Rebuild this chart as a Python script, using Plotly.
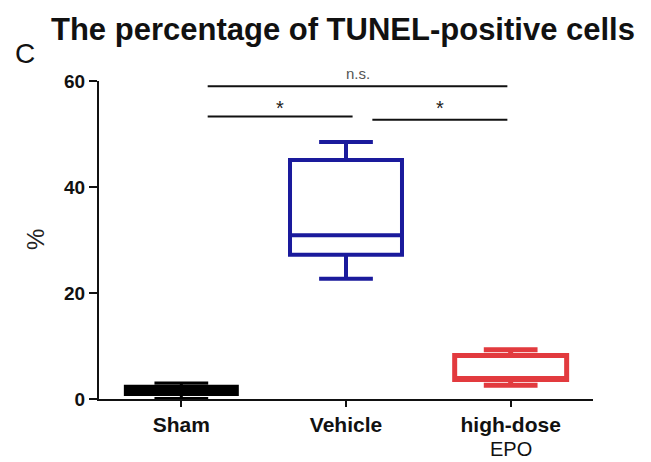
import plotly.graph_objects as go

# Groups and their box statistics (% TUNEL-positive cells)
groups = ["Sham", "Vehicle", "high-dose EPO"]
lower_whisker = [0.1, 22.7, 2.6]
q1 = [0.85, 27.2, 3.7]
median = [1.6, 30.9, 3.7]
q3 = [2.4, 45.1, 8.2]
upper_whisker = [3.0, 48.5, 9.3]

colors = ["#000000", "#1a1a9c", "#e23a3e"]
fills = ["#000000", "rgba(255,255,255,0)", "rgba(255,255,255,0)"]
line_widths = [3, 4, 5]

tick_labels = ["<b>Sham</b>", "<b>Vehicle</b>", "<b>high-dose</b>"]
y_ticks = [0, 20, 40, 60]

# Significance brackets: (x start, x end, line y, label, label y)
brackets = [
    (0.16, 1.98, 59.0, "n.s.", 61.5),
    (0.16, 1.04, 53.3, "*", 54.9),
    (1.16, 1.98, 52.7, "*", 54.9),
]

FONT = "Liberation Sans, Arial, sans-serif"

L, R, T, B = 99, 58, 81, 63
W, H = 651, 462
PW, PH = W - L - R, H - T - B


def px(x, y):
    return (x - L) / PW, (H - B - y) / PH


fig = go.Figure()
for i, g in enumerate(groups):
    fig.add_trace(go.Box(
        x=[g],
        q1=[q1[i]], median=[median[i]], q3=[q3[i]],
        lowerfence=[lower_whisker[i]], upperfence=[upper_whisker[i]],
        width=0.68, whiskerwidth=0.48,
        line=dict(color=colors[i], width=line_widths[i]),
        fillcolor=fills[i],
        boxpoints=False,
        hoverinfo="skip",
        showlegend=False,
    ))

for x0, x1, y, label, ly in brackets:
    fig.add_shape(type="line", xref="x", yref="y",
                  x0=x0, x1=x1, y0=y, y1=y,
                  line=dict(color="#111111", width=2))
    is_star = label == "*"
    fig.add_annotation(xref="x", yref="paper", x=(x0 + x1) / 2, y=ly / 60,
                       text=label, showarrow=False,
                       xanchor="center", yanchor="middle",
                       font=dict(family=FONT, size=20 if is_star else 15,
                                 color="#222222" if is_star else "#555555"))

# Title, panel letter, y label and second line of last category label
tx, ty = px(343, 30)
fig.add_annotation(xref="paper", yref="paper", x=tx, y=ty,
                   text="<b>The percentage of TUNEL-positive cells</b>",
                   showarrow=False, xanchor="center", yanchor="middle",
                   font=dict(family=FONT, size=31, color="#111111"))
cx, cy = px(25, 53)
fig.add_annotation(xref="paper", yref="paper", x=cx, y=cy, text="C",
                   showarrow=False, xanchor="center", yanchor="middle",
                   font=dict(family=FONT, size=28, color="#111111"))
yx, yy = px(35, 240)
fig.add_annotation(xref="paper", yref="paper", x=yx, y=yy, text="%",
                   textangle=-90, showarrow=False,
                   xanchor="center", yanchor="middle",
                   font=dict(family=FONT, size=24, color="#222222"))
fig.add_annotation(xref="x", yref="paper", x=groups[2], y=px(0, 449)[1],
                   text="EPO", showarrow=False,
                   xanchor="center", yanchor="middle",
                   font=dict(family=FONT, size=20, color="#111111"))

fig.update_layout(
    width=W, height=H,
    margin=dict(l=L, r=R, t=T, b=B),
    paper_bgcolor="white", plot_bgcolor="white",
    font=dict(family=FONT, color="#111111"),
)
fig.update_xaxes(
    type="category", categoryorder="array", categoryarray=groups,
    range=[-0.5, 2.5],
    tickvals=groups, ticktext=tick_labels,
    tickfont=dict(family=FONT, size=21, color="#111111"),
    showline=True, linecolor="#111111", linewidth=2,
    ticks="outside", ticklen=6, tickwidth=2, tickcolor="#111111",
    showgrid=False, zeroline=False,
)
fig.update_yaxes(
    range=[0, 60], tickvals=y_ticks,
    ticktext=[f"<b>{v}</b>" for v in y_ticks],
    tickfont=dict(family=FONT, size=19, color="#111111"),
    showline=True, linecolor="#111111", linewidth=2,
    ticks="outside", ticklen=8, tickwidth=2, tickcolor="#111111",
    showgrid=False, zeroline=False,
)

fig.write_html("out.html")
